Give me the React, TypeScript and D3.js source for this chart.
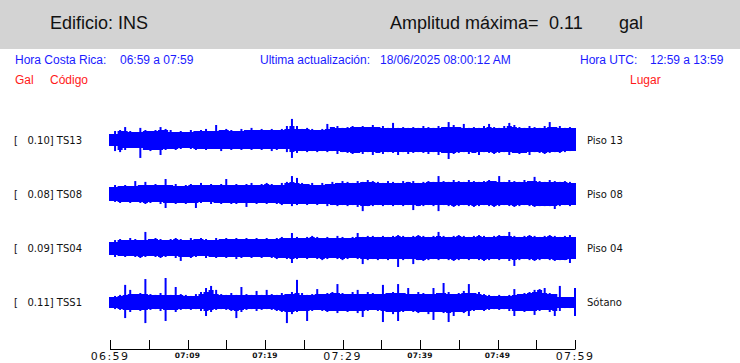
import React, { useRef, useEffect } from "react";
import * as d3 from "d3";

// station info, top to bottom
const codes = ["TS13", "TS08", "TS04", "TSS1"];
const places = ["Piso 13", "Piso 08", "Piso 04", "Sótano"];
const maxGal = ["0.10", "0.08", "0.09", "0.11"];

// envelope of each record (mgal), one value per ~39 s, 06:59 -> 07:59
const ts13Up = [
  29, 43, 48, 62, 43, 38, 58, 48, 43, 48, 62, 53, 48, 38, 43, 38, 48, 43, 48, 53,
  43, 72, 48, 53, 48, 43, 53, 48, 58, 48, 53, 48, 53, 48, 53, 67, 101, 67, 53, 58,
  53, 48, 53, 77, 62, 67, 58, 62, 67, 62, 67, 62, 72, 62, 67, 58, 82, 58, 62, 58,
  62, 58, 67, 62, 58, 67, 62, 86, 72, 62, 77, 58, 62, 58, 67, 77, 62, 58, 67, 82,
  72, 62, 58, 67, 62, 58, 67, 86, 62, 67, 58, 62, 58,
];
const ts13Down = [
  29, 53, 58, 48, 38, 38, 86, 48, 53, 48, 72, 48, 43, 48, 43, 38, 43, 48, 43, 48,
  43, 43, 53, 43, 48, 43, 48, 43, 48, 43, 48, 43, 53, 48, 43, 58, 86, 62, 53, 58,
  53, 58, 53, 58, 53, 67, 58, 62, 67, 62, 67, 58, 72, 62, 67, 58, 62, 72, 58, 67,
  62, 58, 62, 67, 58, 72, 62, 91, 67, 62, 58, 67, 62, 72, 58, 62, 67, 62, 58, 72,
  62, 67, 62, 72, 58, 62, 67, 62, 58, 62, 58, 53, 53,
];
const ts08Up = [
  34, 43, 38, 43, 38, 62, 43, 58, 43, 48, 43, 72, 43, 48, 38, 43, 48, 43, 53, 43,
  48, 43, 48, 72, 43, 48, 43, 48, 53, 43, 48, 53, 48, 43, 53, 58, 86, 77, 53, 48,
  53, 43, 53, 48, 58, 53, 62, 58, 53, 62, 58, 67, 62, 58, 53, 62, 58, 53, 62, 58,
  62, 53, 58, 62, 58, 86, 62, 58, 67, 62, 58, 67, 62, 58, 62, 67, 62, 86, 58, 67,
  62, 58, 67, 62, 82, 62, 58, 67, 62, 58, 62, 58, 53,
];
const ts08Down = [
  34, 38, 43, 38, 43, 38, 43, 48, 43, 38, 48, 67, 43, 48, 43, 48, 43, 67, 43, 38,
  48, 43, 48, 43, 48, 48, 43, 62, 43, 48, 43, 48, 43, 48, 53, 48, 58, 53, 48, 53,
  48, 53, 48, 58, 53, 58, 53, 58, 53, 62, 82, 58, 58, 53, 58, 53, 58, 53, 58, 53,
  77, 58, 58, 53, 58, 82, 53, 58, 62, 58, 53, 58, 62, 58, 53, 58, 62, 58, 53, 58,
  62, 58, 53, 58, 62, 58, 58, 58, 72, 58, 53, 58, 53,
];
const ts04Up = [
  29, 38, 43, 38, 48, 43, 38, 77, 43, 48, 43, 38, 43, 48, 43, 38, 48, 43, 48, 43,
  38, 48, 43, 48, 43, 48, 43, 48, 43, 48, 43, 48, 43, 48, 53, 48, 72, 53, 48, 53,
  58, 53, 48, 53, 48, 58, 53, 48, 53, 72, 53, 58, 58, 53, 58, 53, 58, 62, 58, 53,
  58, 62, 58, 53, 58, 77, 58, 53, 58, 62, 58, 53, 58, 62, 58, 53, 58, 62, 58, 77,
  58, 53, 58, 62, 58, 53, 58, 62, 58, 53, 58, 62, 53,
];
const ts04Down = [
  34, 43, 38, 43, 38, 43, 48, 43, 38, 43, 48, 43, 38, 48, 62, 43, 48, 43, 38, 48,
  43, 48, 43, 48, 43, 53, 48, 43, 48, 43, 48, 43, 48, 53, 48, 53, 72, 53, 48, 53,
  48, 53, 58, 53, 48, 53, 58, 53, 48, 53, 77, 58, 53, 58, 53, 58, 53, 91, 58, 53,
  77, 58, 62, 58, 53, 58, 53, 58, 62, 58, 53, 58, 53, 58, 62, 58, 53, 58, 53, 62,
  86, 58, 53, 58, 62, 58, 53, 58, 62, 58, 58, 72, 53,
];
const tss1Up = [
  24, 29, 34, 82, 58, 38, 43, 110, 38, 34, 43, 115, 34, 72, 38, 34, 29, 38, 48, 67,
  77, 58, 38, 34, 43, 34, 72, 38, 34, 53, 34, 58, 38, 34, 43, 38, 48, 106, 43, 34,
  38, 62, 38, 43, 48, 86, 43, 38, 48, 58, 38, 48, 43, 38, 82, 43, 48, 86, 43, 67,
  38, 48, 43, 38, 67, 43, 91, 48, 38, 43, 53, 86, 43, 48, 38, 34, 29, 34, 29, 34,
  62, 38, 43, 48, 58, 62, 67, 43, 38, 77, 24, 24, 67,
];
const tss1Down = [
  29, 34, 38, 77, 48, 38, 43, 101, 38, 34, 43, 91, 38, 48, 38, 34, 38, 34, 43, 67,
  48, 38, 34, 38, 43, 77, 48, 38, 34, 43, 38, 34, 38, 43, 48, 101, 58, 48, 43, 91,
  43, 38, 43, 48, 43, 53, 43, 48, 43, 53, 72, 43, 38, 43, 96, 48, 58, 91, 48, 43,
  48, 53, 48, 58, 86, 48, 53, 96, 67, 48, 53, 67, 43, 38, 43, 38, 34, 38, 34, 43,
  67, 43, 48, 43, 62, 43, 38, 48, 67, 43, 29, 29, 67,
];

const upper = [ts13Up, ts08Up, ts04Up, tss1Up];
const lower = [ts13Down, ts08Down, ts04Down, tss1Down];

// time axis (minutes after 06:59)
const tickMinutes = [0, 5, 10, 15, 20, 25, 30, 35, 40, 45, 50, 55, 60];
const labelMinutes = [0, 10, 20, 30, 40, 50, 60];
const tickLabels = ["06:59", "07:09", "07:19", "07:29", "07:39", "07:49", "07:59"];
const bigLabels = ["06:59", "07:29", "07:59"];

function App() {
  const svgRef = useRef(null);

  useEffect(() => {
    const svg = d3.select(svgRef.current);
    svg.selectAll("*").remove();

    const x = d3.scaleLinear().domain([0, 60]).range([110, 575]);
    const amp = d3.scaleLinear().domain([0, 115]).range([0, 24]);
    const rowY = d3.scalePoint().domain(codes).range([140, 302]);

    // header band
    svg.append("rect").attr("width", 740).attr("height", 49).attr("fill", "#d3d3d3");
    const head = svg.append("g").attr("font-family", "Liberation Sans, Arial, sans-serif");
    head.append("text").attr("x", 50).attr("y", 29).attr("font-size", 18).attr("fill", "#111").text("Edificio: INS");
    head.append("text").attr("x", 390).attr("y", 29).attr("font-size", 18).attr("fill", "#111").text("Amplitud máxima=");
    head.append("text").attr("x", 549).attr("y", 29).attr("font-size", 18).attr("fill", "#111").text("0.11");
    head.append("text").attr("x", 619).attr("y", 29).attr("font-size", 18).attr("fill", "#111").text("gal");

    const info = [
      [15, "Hora Costa Rica:"], [120, "06:59 a 07:59"],
      [260, "Ultima actualización:"], [380, "18/06/2025 08:00:12 AM"],
      [580, "Hora UTC:"], [650, "12:59 a 13:59"],
    ];
    head.selectAll(".info").data(info).join("text")
      .attr("class", "info")
      .attr("x", d => d[0]).attr("y", 64)
      .attr("font-size", 12).attr("fill", "#1a1aff")
      .text(d => d[1]);

    const cols = [[15, "Gal"], [50, "Código"], [630, "Lugar"]];
    head.selectAll(".col").data(cols).join("text")
      .attr("class", "col")
      .attr("x", d => d[0]).attr("y", 84)
      .attr("font-size", 12).attr("fill", "#ff1a1a")
      .text(d => d[1]);

    // records: body = local minimum of the envelope, then a thin spike per sample
    const tAt = (i, n) => (i * 60) / (n - 1);
    const body = d3.area()
      .x((d, i, arr) => x(tAt(i, arr.length)))
      .y0(d => amp(d[1]))
      .y1(d => -amp(d[0]))
      .curve(d3.curveStep);

    codes.forEach((code, k) => {
      const g = svg.append("g").attr("transform", `translate(0,${rowY(code)})`);
      const up = upper[k];
      const dn = lower[k];
      const n = up.length;
      const core = up.map((u, i) => [
        d3.min([u, up[i - 1] ?? u, up[i + 1] ?? u]),
        d3.min([dn[i], dn[i - 1] ?? dn[i], dn[i + 1] ?? dn[i]]),
      ]);
      g.append("path").attr("d", body(core)).attr("fill", "#0000ff");

      g.selectAll(".spike").data(up).join("line")
        .attr("class", "spike")
        .attr("x1", (d, i) => x(tAt(i, n)))
        .attr("x2", (d, i) => x(tAt(i, n)))
        .attr("y1", d => -amp(d))
        .attr("y2", (d, i) => amp(dn[i]))
        .attr("stroke", "#0000ff")
        .attr("stroke-width", 2);

      const lab = g.append("g").attr("font-family", "DejaVu Sans, sans-serif").attr("font-size", 10).attr("fill", "#111");
      lab.append("text").attr("x", 14).attr("y", 4).text("[");
      lab.append("text").attr("x", 27.5).attr("y", 4).text(`${maxGal[k]}] ${code}`);
      lab.append("text").attr("x", 587).attr("y", 4).text(places[k]);
    });

    // time axis
    const axis = svg.append("g");
    axis.append("line")
      .attr("x1", x(0)).attr("x2", x(60)).attr("y1", 349.5).attr("y2", 349.5)
      .attr("stroke", "#000");
    axis.selectAll(".tick").data(tickMinutes).join("line")
      .attr("class", "tick")
      .attr("x1", d => Math.round(x(d)) + 0.5).attr("x2", d => Math.round(x(d)) + 0.5)
      .attr("y1", 340).attr("y2", 349.5)
      .attr("stroke", "#000");
    axis.selectAll(".tl").data(labelMinutes).join("text")
      .attr("class", "tl")
      .attr("x", d => x(d))
      .attr("y", (d, i) => (bigLabels.includes(tickLabels[i]) ? 360 : 358))
      .attr("text-anchor", "middle")
      .attr("font-family", "DejaVu Sans, sans-serif")
      .attr("font-size", (d, i) => (bigLabels.includes(tickLabels[i]) ? 11 : 7.5))
      .attr("font-weight", (d, i) => (bigLabels.includes(tickLabels[i]) ? "normal" : "bold"))
      .attr("letter-spacing", (d, i) => (bigLabels.includes(tickLabels[i]) ? 1.4 : 0.3))
      .attr("fill", "#111")
      .text((d, i) => tickLabels[i]);
  }, []);

  return (
    <div style={{ position: "absolute", left: 0, top: 0 }}>
      <svg ref={svgRef} width={740} height={363} style={{ display: "block", background: "#fff" }}></svg>
    </div>
  );
}

export default App;
